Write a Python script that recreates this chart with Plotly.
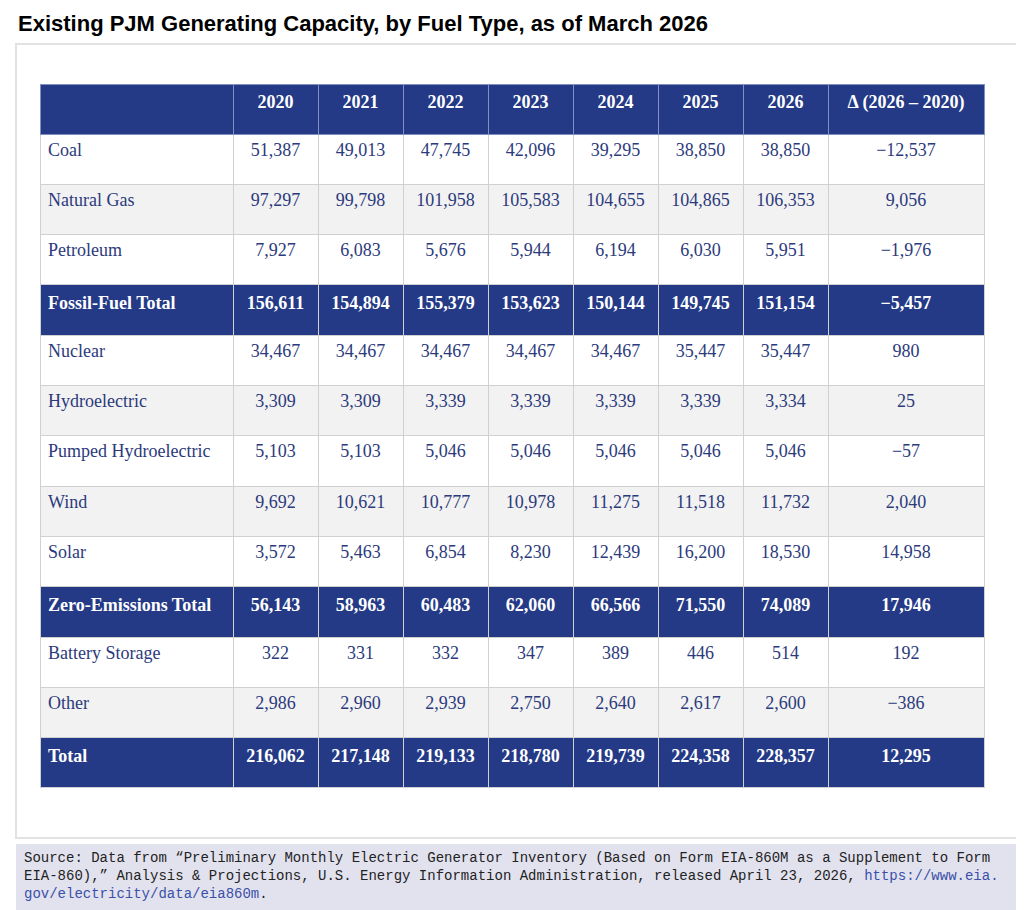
import plotly.graph_objects as go

fuel_types = ["Coal", "Natural Gas", "Petroleum", "Fossil-Fuel Total", "Nuclear", "Hydroelectric",
              "Pumped Hydroelectric", "Wind", "Solar", "Zero-Emissions Total", "Battery Storage",
              "Other", "Total"]
years = ["2020", "2021", "2022", "2023", "2024", "2025", "2026"]
cap_2020 = [51387, 97297, 7927, 156611, 34467, 3309, 5103, 9692, 3572, 56143, 322, 2986, 216062]
cap_2021 = [49013, 99798, 6083, 154894, 34467, 3309, 5103, 10621, 5463, 58963, 331, 2960, 217148]
cap_2022 = [47745, 101958, 5676, 155379, 34467, 3339, 5046, 10777, 6854, 60483, 332, 2939, 219133]
cap_2023 = [42096, 105583, 5944, 153623, 34467, 3339, 5046, 10978, 8230, 62060, 347, 2750, 218780]
cap_2024 = [39295, 104655, 6194, 150144, 34467, 3339, 5046, 11275, 12439, 66566, 389, 2640, 219739]
cap_2025 = [38850, 104865, 6030, 149745, 35447, 3339, 5046, 11518, 16200, 71550, 446, 2617, 224358]
cap_2026 = [38850, 106353, 5951, 151154, 35447, 3334, 5046, 11732, 18530, 74089, 514, 2600, 228357]
delta = [-12537, 9056, -1976, -5457, 980, 25, -57, 2040, 14958, 17946, 192, -386, 12295]
total_rows = {"Fossil-Fuel Total", "Zero-Emissions Total", "Total"}

NAVY = "#243a86"
TEXT = "#2c3a7c"


def fmt(v):
    s = f"{abs(v):,}"
    return ("\u2212" + s) if v < 0 else s


def cell(name, text):
    return f"<b>{text}</b>" if name in total_rows else text


columns = [[cell(n, n) for n in fuel_types]]
for series in [cap_2020, cap_2021, cap_2022, cap_2023, cap_2024, cap_2025, cap_2026, delta]:
    columns.append([cell(n, fmt(v)) for n, v in zip(fuel_types, series)])

fills = []
for i, n in enumerate(fuel_types):
    if n in total_rows:
        fills.append(NAVY)
    else:
        fills.append("#ffffff" if i % 2 == 0 else "#f2f2f2")
font_colors = ["#ffffff" if n in total_rows else TEXT for n in fuel_types]

header = ["", *years, "\u0394 (2026 \u2013 2020)"]

fig = go.Figure(go.Table(
    domain=dict(x=[32 / 1024, 976 / 1024], y=[1 - 788 / 910, 1 - 76 / 910]),
    columnwidth=[193, 85, 85, 85, 85, 85, 85, 85, 156],
    header=dict(
        values=[f"<b>{h}</b>" for h in header],
        fill_color=NAVY,
        line_color="#8090c0",
        font=dict(family="Liberation Serif", size=18, color="#ffffff"),
        align="center",
        height=50,
    ),
    cells=dict(
        values=columns,
        fill_color=[fills] * 9,
        line_color="#d0d0d0",
        font=dict(family="Liberation Serif", size=18, color=[font_colors] * 9),
        align=["left"] + ["center"] * 8,
        height=50.3,
    ),
))

fig.update_layout(
    width=1024, height=910,
    margin=dict(l=0, r=0, t=0, b=0),
    paper_bgcolor="#ffffff",
    shapes=[
        dict(type="rect", xref="paper", yref="paper", x0=8 / 1024, x1=1016 / 1024,
             y0=1 - 830 / 910, y1=1 - 36 / 910, line=dict(color="#e2e2e2", width=2),
             fillcolor="rgba(0,0,0,0)", layer="below"),
        dict(type="rect", xref="paper", yref="paper", x0=8 / 1024, x1=1016 / 1024,
             y0=1 - 904 / 910, y1=1 - 836 / 910, line=dict(width=0),
             fillcolor="#e2e2ef", layer="below"),
    ],
    annotations=[
        dict(text="<b>Existing PJM Generating Capacity, by Fuel Type, as of March 2026</b>",
             xref="paper", yref="paper", x=8 / 1024, y=1 - 1 / 910, xanchor="left", yanchor="top",
             showarrow=False, font=dict(family="Liberation Sans", size=22, color="#000000")),
        dict(text=("Source: Data from \u201cPreliminary Monthly Electric Generator Inventory (Based on Form EIA-860M as a Supplement to Form<br>"
                   "EIA-860),\u201d Analysis &amp; Projections, U.S. Energy Information Administration, released April 23, 2026, "
                   "<span style='color:#3a50a8'>https://www.eia.</span><br>"
                   "<span style='color:#3a50a8'>gov/electricity/data/eia860m</span>."),
             xref="paper", yref="paper", x=14 / 1024, y=1 - 840 / 910, xanchor="left", yanchor="top",
             align="left", showarrow=False,
             font=dict(family="Liberation Mono", size=14, color="#222222")),
    ],
)

fig.write_html("out.html")
